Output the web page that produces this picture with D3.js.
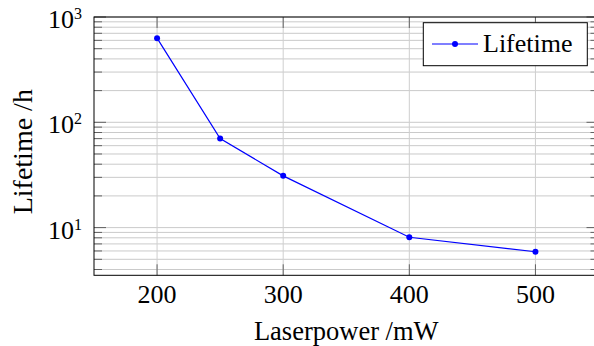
<!DOCTYPE html>
<html>
<head>
<meta charset="utf-8">
<script src="https://cdn.jsdelivr.net/npm/d3@7"></script>
<style>
  body { margin: 0; background: #fff; }
</style>
</head>
<body>
<svg id="chart" width="594" height="346"></svg>
<script>
// data
const power = [200, 250, 300, 400, 500];
const lifetime = [630, 70, 31, 8.1, 5.9];
const xTicks = [200, 300, 400, 500];
const yMajor = [10, 100, 1000];
const seriesName = "Lifetime";

const width = 594;
const height = 346;
const m = { l: 94, r: 598.5, t: 17, b: 275.3 };
const serif = '"Liberation Serif"';

const svg = d3.select("#chart");

const x = d3.scaleLinear().domain([150, 550]).range([m.l, m.r]);
const y = d3.scaleLog().domain([Math.pow(10, 0.547), 1000]).range([m.b, m.t]);

// minor ticks of the log axis
const yMinor = [];
[1, 10, 100].forEach((dec) => {
  for (let k = 2; k <= 9; k++) {
    const v = dec * k;
    if (v >= y.domain()[0] && v <= 1000) yMinor.push(v);
  }
});

const grid = svg.append("g");
grid.selectAll(".hminor")
  .data(yMinor.concat(yMajor))
  .join("line")
  .attr("x1", m.l).attr("x2", m.r)
  .attr("y1", (d) => y(d)).attr("y2", (d) => y(d))
  .attr("stroke", "#c4c4c4")
  .attr("stroke-width", 0.9);

grid.selectAll(".vmajor")
  .data(xTicks)
  .join("line")
  .attr("x1", (d) => x(d)).attr("x2", (d) => x(d))
  .attr("y1", m.t).attr("y2", m.b)
  .attr("stroke", "#cfcfcf")
  .attr("stroke-width", 1);

// ticks (inward, both sides)
const ticks = svg.append("g").attr("stroke", "#555").attr("stroke-width", 0.9);
yMinor.forEach((v) => {
  ticks.append("line").attr("x1", m.l).attr("x2", m.l + 8).attr("y1", y(v)).attr("y2", y(v));
  ticks.append("line").attr("x1", m.r).attr("x2", m.r - 8).attr("y1", y(v)).attr("y2", y(v));
});
yMajor.forEach((v) => {
  ticks.append("line").attr("x1", m.l).attr("x2", m.l + 12).attr("y1", y(v)).attr("y2", y(v));
  ticks.append("line").attr("x1", m.r).attr("x2", m.r - 12).attr("y1", y(v)).attr("y2", y(v));
});
xTicks.forEach((v) => {
  ticks.append("line").attr("x1", x(v)).attr("x2", x(v)).attr("y1", m.b).attr("y2", m.b - 11);
  ticks.append("line").attr("x1", x(v)).attr("x2", x(v)).attr("y1", m.t).attr("y2", m.t + 11);
});

// frame
svg.append("rect")
  .attr("x", m.l).attr("y", m.t)
  .attr("width", m.r - m.l).attr("height", m.b - m.t)
  .attr("fill", "none")
  .attr("stroke", "#000")
  .attr("stroke-width", 1);

// tick labels
svg.selectAll(".xlab")
  .data(xTicks)
  .join("text")
  .style("font-family", serif)
  .attr("x", (d) => x(d))
  .attr("y", 302.5)
  .attr("text-anchor", "middle")
  .attr("font-size", 26)
  .text((d) => d);

const ylab = svg.selectAll(".ylab")
  .data(yMajor)
  .join("text")
  .style("font-family", serif)
  .attr("x", 82)
  .attr("y", (d) => y(d) + 11)
  .attr("text-anchor", "end")
  .attr("font-size", 26);
ylab.append("tspan").text("10");
ylab.append("tspan")
  .attr("dy", -9)
  .attr("font-size", 16)
  .text((d) => Math.round(Math.log10(d)));

// axis labels
svg.append("text")
  .style("font-family", serif)
  .attr("x", (m.l + m.r) / 2)
  .attr("y", 340)
  .attr("text-anchor", "middle")
  .attr("font-size", 26.5)
  .text("Laserpower /mW");

svg.append("text")
  .style("font-family", serif)
  .attr("transform", "translate(31.7, 151.7) rotate(-90)")
  .attr("text-anchor", "middle")
  .attr("font-size", 28)
  .text("Lifetime /h");

// series
const data = power.map((p, i) => ({ p, v: lifetime[i] }));
const line = d3.line().x((d) => x(d.p)).y((d) => y(d.v));

svg.append("path")
  .datum(data)
  .attr("d", line)
  .attr("fill", "none")
  .attr("stroke", "#0000ff")
  .attr("stroke-width", 1.2);

svg.selectAll(".pt")
  .data(data)
  .join("circle")
  .attr("cx", (d) => x(d.p))
  .attr("cy", (d) => y(d.v))
  .attr("r", 3)
  .attr("fill", "#0000ff");

// legend
const lg = svg.append("g");
lg.append("rect")
  .attr("x", 423.3).attr("y", 22.7)
  .attr("width", 164).attr("height", 43)
  .attr("fill", "#fff")
  .attr("stroke", "#000")
  .attr("stroke-width", 1);
lg.append("line")
  .attr("x1", 432).attr("x2", 478).attr("y1", 44).attr("y2", 44)
  .attr("stroke", "#0000ff").attr("stroke-width", 1.2);
lg.append("circle").attr("cx", 455).attr("cy", 44).attr("r", 3).attr("fill", "#0000ff");
lg.append("text")
  .style("font-family", serif)
  .attr("x", 483).attr("y", 52)
  .attr("font-size", 26)
  .text(seriesName);
</script>
</body>
</html>
